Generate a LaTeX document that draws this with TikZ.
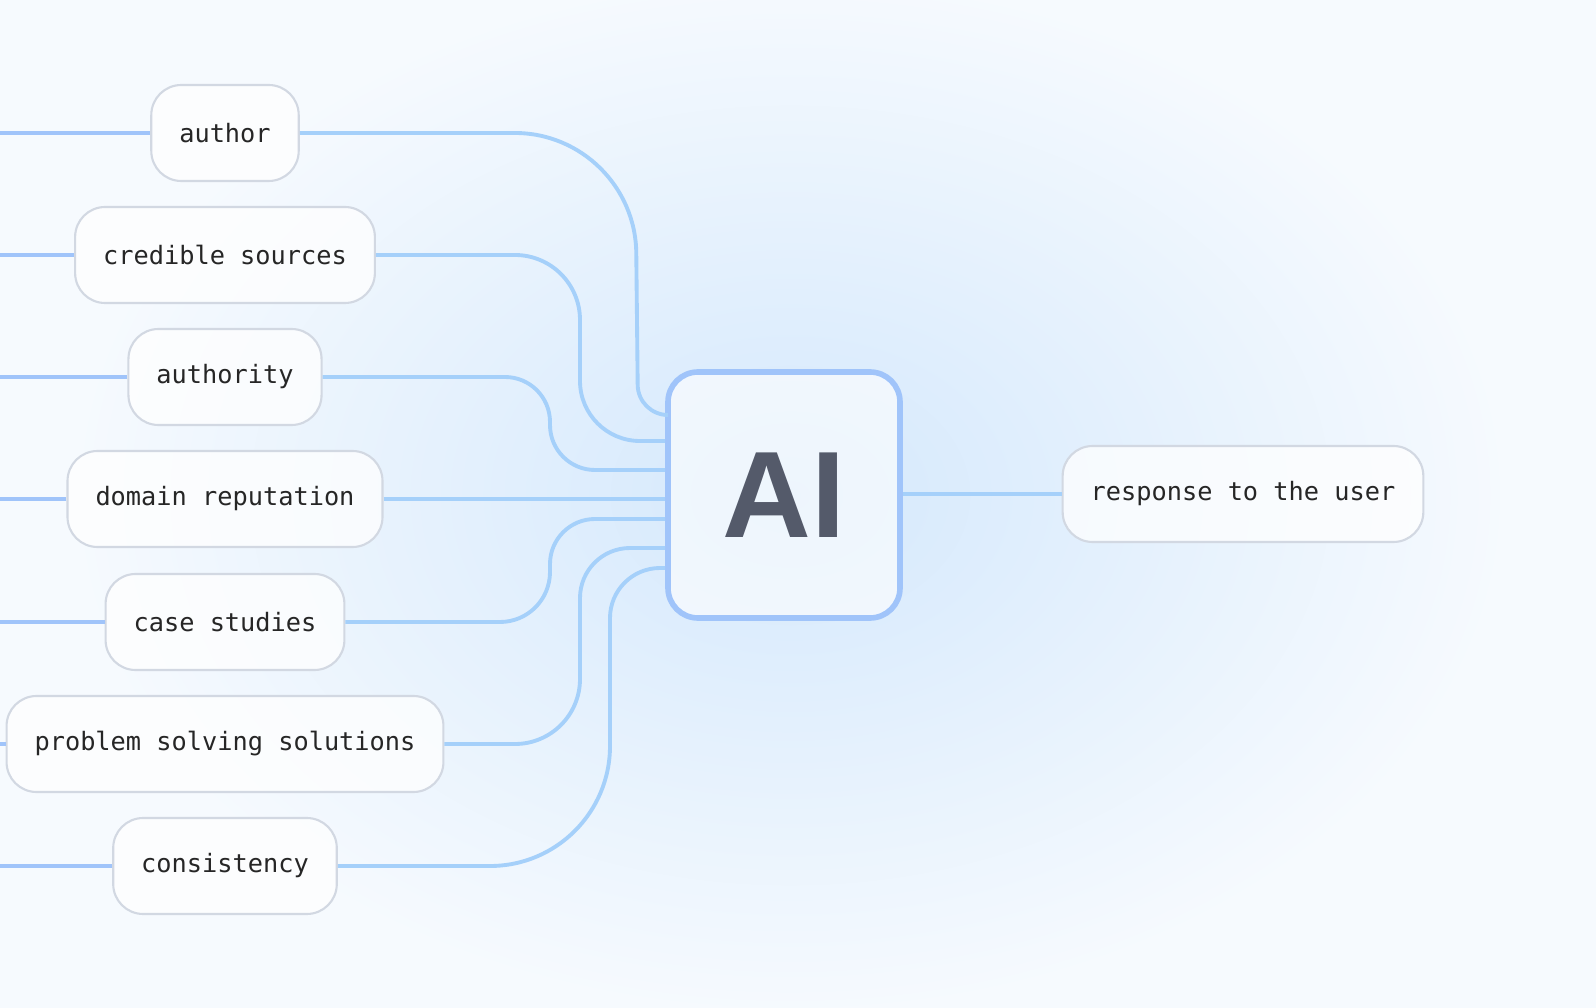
\documentclass[tikz,border=0pt]{standalone}
\usepackage{fontspec}
\setmonofont{DejaVu Sans Mono}
\setsansfont{Liberation Sans}
\usetikzlibrary{calc}
\definecolor{link_blue}{RGB}{160, 196, 250}
\definecolor{link_cyan}{RGB}{172, 226, 250}
\definecolor{box_edge}{RGB}{210, 216, 226}
\definecolor{ai_text}{RGB}{84, 90, 106}
\definecolor{bg_in}{RGB}{212, 232, 252}
\definecolor{bg_out}{RGB}{246, 250, 254}

\tikzset{
  topic/.style={draw=box_edge, line width=0.6pt, fill=white, fill opacity=0.75, text opacity=1,
    rounded corners=0.3cm, minimum height=0.96cm, inner xsep=0.28cm,
    font=\fontsize{7.2}{8}\selectfont\ttfamily, text=black!85},
  link/.style={link_blue, line width=1.1pt},
  feed/.style={link_blue!60!link_cyan, line width=1.1pt}
}

\begin{document}
\begin{tikzpicture}
  \useasboundingbox (0,0) rectangle (15.96,-10.08);
  \fill[bg_out] (0,0) rectangle (15.96,-10.08);
  \shade[inner color=bg_in, outer color=bg_out] (7.9,-4.95) ellipse (7.2 and 5.2);

  % topics on the left
  \node[topic, minimum width=1.46cm] (author)   at (2.25,-1.33) {author};
  \node[topic, minimum width=2.92cm] (sources)  at (2.25,-2.55) {credible sources};
  \node[topic, minimum width=1.89cm] (authority) at (2.25,-3.77) {authority};
  \node[topic, minimum width=3.06cm] (domain)   at (2.25,-4.99) {domain reputation};
  \node[topic, minimum width=2.33cm] (cases)    at (2.25,-6.22) {case studies};
  \node[topic, minimum width=4.23cm] (problem)  at (2.25,-7.44) {problem solving solutions};
  \node[topic, minimum width=2.17cm] (consist)  at (2.25,-8.66) {consistency};

  % centre and output
  \node[draw=link_blue, line width=1.6pt, fill=white, fill opacity=0.6, text opacity=1,
    rounded corners=0.3cm, minimum width=2.32cm, minimum height=2.46cm,
    font=\fontsize{35}{35}\selectfont\sffamily\bfseries, text=ai_text] (ai) at (7.84,-4.95) {AI};
  \node[topic, minimum width=3.57cm] (resp) at (12.43,-4.94) {response to the user};

  % feeds from the left edge
  \foreach \n in {author,sources,authority,domain,cases,problem,consist}
    { \draw[link] (\n.west) -- (\n.west -| 0,0); }

  % feeds into the centre
  \draw[feed] (author.east) [rounded corners=12mm] -- (6.35,-1.33) [rounded corners=3mm] -- (6.38,-4.15) -- (ai.west |- 0,-4.15);
  \draw[feed] (sources.east) [rounded corners=6.5mm] -- (5.8,-2.55) [rounded corners=6mm] -- (5.8,-4.41) -- (ai.west |- 0,-4.41);
  \draw[feed] (authority.east) [rounded corners=4.5mm] -- (5.5,-3.77) [rounded corners=4.5mm] -- (5.5,-4.70) -- (ai.west |- 0,-4.70);
  \draw[feed] (domain.east) -- (ai.west |- domain.east);
  \draw[feed] (cases.east) [rounded corners=5mm] -- (5.5,-6.22) [rounded corners=4.5mm] -- (5.5,-5.19) -- (ai.west |- 0,-5.19);
  \draw[feed] (problem.east) [rounded corners=6.5mm] -- (5.8,-7.44) [rounded corners=5mm] -- (5.8,-5.48) -- (ai.west |- 0,-5.48);
  \draw[feed] (consist.east) [rounded corners=12mm] -- (6.1,-8.66) [rounded corners=5mm] -- (6.1,-5.68) -- (ai.west |- 0,-5.68);

  \draw[feed] (ai.east |- resp.west) -- (resp.west);
\end{tikzpicture}
\end{document}
